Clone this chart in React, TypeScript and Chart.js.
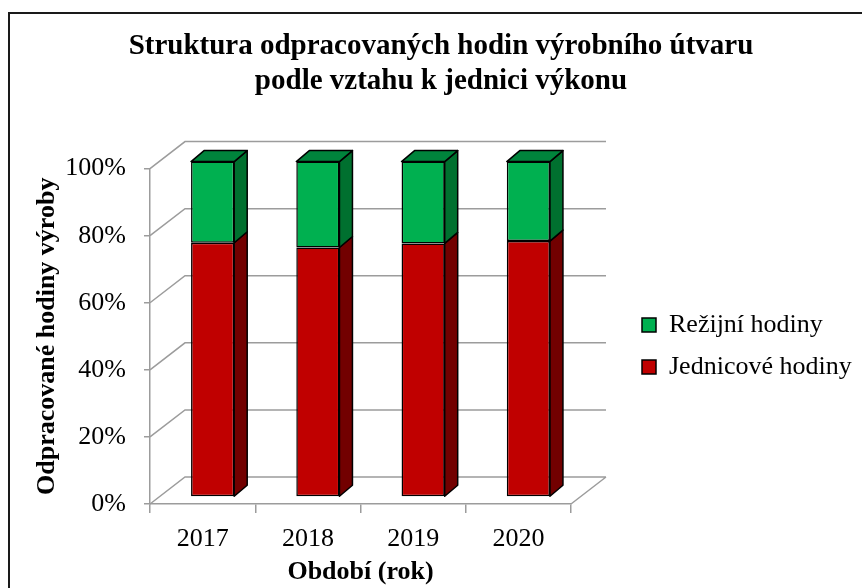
import { useEffect, useRef } from 'react';
import { Chart, registerables } from 'chart.js';

Chart.register(...registerables);

// ---- data ----
const years = ['2017', '2018', '2019', '2020'];
const jednicoveHodiny = [75.8, 74.4, 75.6, 76.3];
const rezijniHodiny = [24.2, 25.6, 24.4, 23.7];
const yMin = 0;
const yMax = 100;
const yStep = 20;
const chartTitle = ['Struktura odpracovaných hodin výrobního útvaru', 'podle vztahu k jednici výkonu'];
const xTitle = 'Období (rok)';
const yTitle = 'Odpracované hodiny výroby';
const seriesNames = ['Jednicové hodiny', 'Režijní hodiny'];

// ---- style ----
const FONT = "'Liberation Serif', 'Times New Roman', serif";
const GRID = '#9c9c9c';
const WALL_DX = 35;
const WALL_DY = -27;
const BAR_SHIFT_X = 10;
const BAR_SHIFT_Y = -7;
const BAR_DX = 13;
const BAR_DY = -11;
const LEGEND_GAP = 55;
const LEGEND_W = 140;
const RIGHT_AXIS_W = 151;
const frontColors = ['#C00000', '#00B050'];
const sideColors = ['#720000', '#00702F'];
const topColors = ['#8a0000', '#00843C'];

const threeD = {
  id: 'threeD',
  afterLayout(chart: any) {
    const lg = chart.legend;
    if (lg) {
      lg.left = chart.chartArea.right + LEGEND_GAP;
      lg.right = chart.width;
      lg.width = lg.right - lg.left;
    }
  },
  beforeDraw(chart: any) {
    const { ctx, width, height } = chart;
    ctx.save();
    ctx.fillStyle = '#ffffff';
    ctx.fillRect(0, 0, width, height);
    ctx.strokeStyle = '#1a1a1a';
    ctx.lineWidth = 2;
    ctx.beginPath();
    ctx.moveTo(9, height);
    ctx.lineTo(9, 13);
    ctx.lineTo(width, 13);
    ctx.stroke();
    ctx.restore();
  },
  beforeDatasetsDraw(chart: any) {
    const { ctx, chartArea: a, scales } = chart;
    const y = scales.y;
    ctx.save();
    ctx.strokeStyle = GRID;
    ctx.lineWidth = 1.5;
    ctx.beginPath();
    y.ticks.forEach((t: any) => {
      const py = y.getPixelForValue(t.value);
      ctx.moveTo(a.left, py);
      ctx.lineTo(a.left + WALL_DX, py + WALL_DY);
      ctx.lineTo(a.right + WALL_DX, py + WALL_DY);
    });
    ctx.moveTo(a.right, a.bottom);
    ctx.lineTo(a.right + WALL_DX, a.bottom + WALL_DY);
    ctx.stroke();
    ctx.restore();
    ctx.save();
    ctx.translate(BAR_SHIFT_X, BAR_SHIFT_Y);
  },
  afterDatasetsDraw(chart: any) {
    const { ctx } = chart;
    const metas = chart.getSortedVisibleDatasetMetas();
    ctx.strokeStyle = '#000000';
    ctx.lineWidth = 1.5;
    ctx.lineJoin = 'round';
    metas.forEach((meta: any, mi: number) => {
      const di = meta.index;
      meta.data.forEach((bar: any) => {
        const { x, y, base, width } = bar.getProps(['x', 'y', 'base', 'width'], true);
        const l = x - width / 2;
        const r = x + width / 2;
        const top = Math.min(y, base);
        const bot = Math.max(y, base);
        ctx.beginPath();
        ctx.moveTo(r, top);
        ctx.lineTo(r + BAR_DX, top + BAR_DY);
        ctx.lineTo(r + BAR_DX, bot + BAR_DY);
        ctx.lineTo(r, bot);
        ctx.closePath();
        ctx.fillStyle = sideColors[di];
        ctx.fill();
        ctx.stroke();
        if (mi === metas.length - 1) {
          ctx.beginPath();
          ctx.moveTo(l, top);
          ctx.lineTo(l + BAR_DX, top + BAR_DY);
          ctx.lineTo(r + BAR_DX, top + BAR_DY);
          ctx.lineTo(r, top);
          ctx.closePath();
          ctx.fillStyle = topColors[di];
          ctx.fill();
          ctx.stroke();
        }
      });
    });
    ctx.restore();
  },
};

export default function App() {
  const ref = useRef<HTMLCanvasElement>(null);
  useEffect(() => {
    if (!ref.current) return;
    Chart.defaults.font.family = FONT;
    Chart.defaults.color = '#000000';
    const chart = new Chart(ref.current, {
      type: 'bar',
      data: {
        labels: years,
        datasets: [
          {
            label: seriesNames[0],
            data: jednicoveHodiny,
            backgroundColor: frontColors[0],
            borderColor: '#000000',
            borderWidth: 1.5,
            borderSkipped: false,
            clip: false as any,
          },
          {
            label: seriesNames[1],
            data: rezijniHodiny,
            backgroundColor: frontColors[1],
            borderColor: '#000000',
            borderWidth: 1.5,
            borderSkipped: false,
            clip: false as any,
          },
        ],
      },
      options: {
        responsive: false,
        animation: false,
        events: [],
        layout: { padding: { left: 20, right: 0, top: 0, bottom: 0 } },
        datasets: { bar: { categoryPercentage: 1, barPercentage: 0.41 } },
        scales: {
          x: {
            stacked: true,
            grid: { display: true, offset: true, drawOnChartArea: false, drawTicks: true, tickLength: 9, color: GRID, lineWidth: 1.5 },
            border: { display: true, color: GRID, width: 1.5 },
            ticks: { font: { size: 26 }, padding: 11, color: '#000' },
            title: { display: true, text: xTitle, font: { size: 26, weight: 'bold' }, padding: { top: 0, bottom: 0 }, color: '#000' },
            afterFit: (s: any) => { s.height = 84; },
          },
          y: {
            stacked: true,
            min: yMin,
            max: yMax,
            grid: { display: true, drawOnChartArea: false, drawTicks: true, tickLength: 6, color: GRID, lineWidth: 1.5 },
            border: { display: true, color: GRID, width: 1.5 },
            ticks: { stepSize: yStep, font: { size: 26 }, padding: 18, color: '#000', callback: (v: any) => v + '%' },
            title: { display: true, text: yTitle, font: { size: 26, weight: 'bold' }, padding: { top: 12, bottom: 0 }, color: '#000' },
            afterFit: (s: any) => { s.width = 130; },
          },
          y2: {
            position: 'right',
            display: true,
            grid: { display: false },
            border: { display: false },
            ticks: { display: false },
            afterFit: (s: any) => { s.width = RIGHT_AXIS_W; },
          },
        },
        plugins: {
          title: {
            display: true,
            text: chartTitle,
            font: { size: 29, weight: 'bold', lineHeight: 1.2 },
            padding: { top: 29, bottom: 70 },
            color: '#000',
          },
          legend: {
            display: true,
            position: 'right',
            fullSize: false,
            reverse: true,
            maxWidth: LEGEND_W,
            title: { display: true, text: '', font: { size: 16 }, padding: 0 },
            labels: { font: { size: 26 }, boxWidth: 14, boxHeight: 14, padding: 16, color: '#000' },
          },
          tooltip: { enabled: false },
        },
      },
      plugins: [threeD],
    } as any);
    return () => chart.destroy();
  }, []);
  return (
    <div style={{ position: 'absolute', left: 0, top: 0, width: 862, height: 588 }}>
      <canvas ref={ref} width={862} height={588} />
    </div>
  );
}
